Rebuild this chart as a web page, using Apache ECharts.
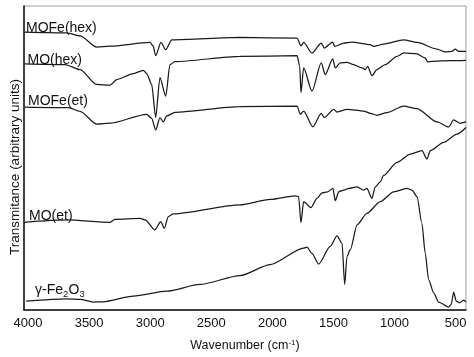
<!DOCTYPE html>
<html><head><meta charset="utf-8">
<script src="https://cdn.jsdelivr.net/npm/echarts@6/dist/echarts.min.js"></script>
<style>html,body{margin:0;padding:0;background:#fff}#c{width:474px;height:357px}</style>
</head><body><div id="c"></div>
<script>
// Tick labels on wavenumber axis
const xTicks = [4000, 3500, 3000, 2500, 2000, 1500, 1000, 500];
const seriesNames = ['MOFe(hex)', 'MO(hex)', 'MOFe(et)', 'MO(et)', 'γ-Fe2O3'];
// [wavenumber (cm-1), transmittance (arbitrary units)]
const mofeHex = [[4030,279.7],[3683,279],[3574,276],[3438,264.7],[3329,265.5],[3002,269.3],[2977,266],[2955,256],[2912,269.3],[2873,262],[2824,272],[2265,274.3],[1798,273.7],[1766,266],[1744,269.3],[1676,258.7],[1600,268.7],[1575,263.7],[1506,269.7],[1490,265.3],[1416,268.7],[1348,269.7],[1199,267],[1171,265.3],[1089,267.7],[925,272],[816,269.3],[653,262.7],[585,259.7],[530,260.3],[503,262.7],[475,260.3],[415,260.3]];
const moHex = [[4030,247.7],[3697,247],[3574,242],[3438,227],[3329,226.3],[3274,232],[3138,238],[3056,241.3],[3029,238],[2988,227],[2955,194],[2920,234],[2873,215.3],[2838,247],[2797,250],[2265,255.3],[1798,256],[1776,245.3],[1766,218.7],[1744,243.7],[1676,220.3],[1600,248.7],[1567,237],[1506,252.7],[1485,243.7],[1444,248.7],[1389,249.3],[1335,247],[1267,243.7],[1240,242],[1220,245.3],[1185,236],[1144,242],[1076,247],[980,255.3],[925,258.7],[816,257.7],[749,253.7],[729,249.7],[694,250.3],[544,251],[415,251.3]];
const mofeEt = [[4030,204.3],[3670,203.7],[3574,200],[3438,187],[3329,188],[3029,197],[2988,193],[2955,181.3],[2920,193.7],[2893,189.3],[2865,195.3],[2797,199],[2265,204.7],[1798,205.3],[1771,197],[1744,200.3],[1668,184.3],[1600,198],[1575,193.7],[1498,202],[1471,199.3],[1389,202],[1253,200.3],[1199,198],[1144,196],[1062,198.7],[925,205.3],[816,202.7],[653,189.3],[557,184.3],[516,191.3],[467,188],[415,189.3]];
const moEt = [[4030,88.3],[3683,90.7],[3329,88.3],[3288,91.3],[3083,92.3],[3042,90.7],[2961,80.7],[2914,89],[2884,82.3],[2852,94],[2811,96.7],[2265,105.7],[2017,111.3],[1812,115],[1785,114],[1766,88],[1744,109],[1684,103],[1635,112.3],[1594,118],[1547,119],[1504,122.3],[1485,110],[1457,119],[1416,120.7],[1375,122.3],[1307,124],[1253,120.7],[1226,122.3],[1185,112.3],[1158,124],[1117,129],[1089,135.5],[980,148.7],[871,157],[776,160.3],[734,152],[708,160.3],[598,168.7],[489,177],[415,183.7]];
const fe2o3 = [[4016,9],[3683,11.3],[3574,10.7],[3466,8],[3384,8.3],[3138,14],[2865,19],[2592,25.7],[2265,34.7],[2017,45.7],[1744,62.3],[1717,63.3],[1676,57],[1621,46.3],[1526,64],[1471,74.7],[1430,67.3],[1408,25.7],[1389,54],[1362,60.7],[1307,85.7],[1226,97.3],[1117,109],[1007,119],[898,122.3],[857,120.7],[816,114],[776,87.3],[749,57.3],[721,30.7],[680,17.3],[639,8],[557,3],[536,5.7],[516,18],[495,9],[467,7.3],[434,10],[415,8]];

const chart = echarts.init(document.getElementById('c'), null, {renderer:'canvas'});
const lineColor = '#1a1a1a';
const datasets = [mofeHex, moHex, mofeEt, moEt, fe2o3];
const FONT = 'Liberation Sans, Arial, sans-serif';
const txt = (text, x, y, size) => ({type:'text', left:x, top:y, style:{text, fontFamily:FONT, fontSize:size||14, fill:'#111'}});
chart.setOption({
  animation:false,
  grid:{left:24, right:8, top:6, bottom:45, show:true, borderColor:'#a0a0a0', borderWidth:1},
  xAxis:{type:'value', min:415, max:4033, inverse:true,
    axisLine:{show:true, lineStyle:{color:'#111', width:1.5}},
    axisTick:{show:false}, splitLine:{show:false},
    axisLabel:{customValues:xTicks, margin:7, fontSize:13, color:'#111', fontFamily:FONT, formatter:v=>String(v)},
    name:'Wavenumber (cm{sup|-1})', nameLocation:'middle', nameGap:29,
    nameTextStyle:{fontSize:12.5, color:'#111', fontFamily:FONT,
      rich:{sup:{fontSize:8, verticalAlign:'top', lineHeight:8, fontFamily:FONT, color:'#111'}}}
  },
  yAxis:{type:'value', min:0, max:306,
    axisLine:{show:true, lineStyle:{color:'#111', width:1.5}},
    axisTick:{show:false}, axisLabel:{show:false}, splitLine:{show:false}
  },
  series: datasets.map((d,i)=>({name:seriesNames[i], type:'line', data:d, showSymbol:false, symbol:'none',
    smooth:0.25, smoothMonotone:'x',
    lineStyle:{color:lineColor, width:1.25}})),
  graphic:[
    {type:'text', x:15.5, y:167, rotation:Math.PI/2,
      style:{text:'Transmitance (arbitrary units)', fontFamily:FONT, fontSize:13.5, fill:'#111', align:'center', verticalAlign:'middle'}},
    txt('MOFe(hex)', 26, 21),
    txt('MO(hex)', 27.5, 53),
    txt('MOFe(et)', 28, 94),
    txt('MO(et)', 29, 209),
    txt('γ-Fe', 35, 283),
    txt('2', 63, 289, 9.5),
    txt('O', 68.5, 283),
    txt('3', 79.5, 289, 9.5)
  ]
});
</script></body></html>
